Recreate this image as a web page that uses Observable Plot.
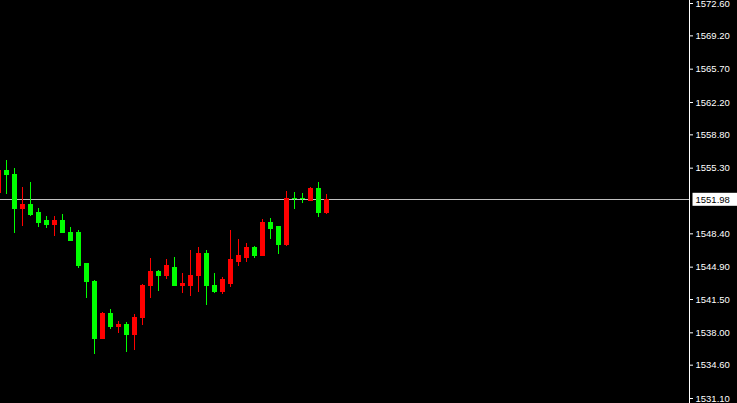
<!DOCTYPE html>
<html><head><meta charset="utf-8">
<script src="https://cdn.jsdelivr.net/npm/d3@7"></script>
<script src="https://cdn.jsdelivr.net/npm/@observablehq/plot@0.6"></script>
<style>html,body{margin:0;padding:0;background:#000;overflow:hidden}#chart svg{display:block}</style>
</head><body><div id="chart"></div>
<script>
const opens  = [1552.74,1554.95,1554.63,1550.96,1551.48,1550.54,1549.70,1549.38,1549.70,1548.54,1548.54,1545.18,1543.39,1537.40,1539.93,1538.66,1538.77,1537.72,1539.51,1542.87,1544.44,1543.92,1544.86,1542.97,1542.97,1544.02,1546.23,1542.87,1542.24,1543.18,1545.49,1545.91,1546.96,1546.02,1549.49,1549.07,1547.18,1552.11,1552.11,1551.90,1553.16,1550.64];
const highs  = [1555.10,1556.11,1555.26,1553.27,1553.79,1551.06,1550.22,1550.22,1550.43,1549.07,1548.75,1545.28,1543.50,1540.14,1540.45,1539.19,1539.09,1539.93,1543.08,1545.81,1544.55,1545.70,1545.91,1544.23,1546.65,1546.96,1546.65,1544.23,1543.81,1548.75,1547.81,1547.39,1547.07,1549.91,1550.01,1549.07,1552.85,1552.74,1552.64,1553.27,1553.79,1552.53];
const lows   = [1552.60,1552.53,1548.44,1549.17,1550.22,1549.07,1548.96,1548.12,1548.44,1547.60,1544.76,1541.61,1535.72,1537.30,1538.35,1537.93,1535.93,1536.14,1538.77,1541.61,1542.34,1543.60,1542.87,1542.13,1541.82,1542.24,1540.87,1542.13,1542.03,1542.76,1544.97,1545.39,1545.81,1546.02,1547.81,1546.23,1547.07,1550.96,1551.59,1551.80,1550.12,1550.43];
const closes = [1554.95,1554.53,1550.96,1551.48,1550.43,1549.59,1549.38,1549.70,1548.44,1547.70,1545.07,1543.29,1537.40,1539.93,1538.56,1538.77,1537.72,1539.61,1542.97,1544.44,1543.92,1544.97,1542.97,1543.18,1544.02,1546.33,1542.97,1542.24,1543.50,1545.60,1546.02,1546.96,1546.02,1549.49,1548.96,1547.18,1552.11,1552.01,1552.01,1553.16,1550.64,1551.98];
const yTicks = [1572.60,1569.20,1565.70,1562.20,1558.80,1555.30,1548.40,1544.90,1541.50,1538.00,1534.60,1531.10];

const bars = opens.map((o, i) => ({i, open: o, high: highs[i], low: lows[i], close: closes[i]}));
const last = bars[bars.length - 1];
const UP = "#ff0000", DOWN = "#00ff00";
const col = d => d.close > d.open ? UP : DOWN;

const chart = Plot.plot({
  width: 737, height: 403,
  marginLeft: 0, marginRight: 48, marginTop: 0, marginBottom: 0,
  style: {background: "#000", color: "#fff", fontFamily: "'Liberation Sans', Arial, sans-serif", fontSize: "9.5px"},
  x: {type: "linear", domain: [0.6875, 86.8125], axis: null},
  y: {domain: [1531.1, 1572.6], range: [398, 3], axis: null},
  marks: [
    Plot.ruleY([last], {y: "close", stroke: "#c0c0c0", shapeRendering: "crispEdges"}),
    Plot.ruleX(bars, {x: "i", y1: "low", y2: "high", stroke: col, dx: 3.5, shapeRendering: "crispEdges"}),
    Plot.rect(bars, {x1: d => d.i, x2: d => d.i + 1, y1: "open", y2: "close", fill: col,
      insetLeft: 1.5, insetRight: 1.5, insetTop: -0.5, insetBottom: -0.5, shapeRendering: "crispEdges"}),
    Plot.frame({anchor: "right", stroke: "#fff", shapeRendering: "crispEdges"}),
    Plot.axisY({anchor: "right", ticks: yTicks, tickSize: 3, tickPadding: 3, label: null,
      tickFormat: d => d.toFixed(2), stroke: "#fff", fill: "#fff"}),
    Plot.text([last], {y: "close", frameAnchor: "right", dx: 6, textAnchor: "start",
      text: d => d.close.toFixed(2), fill: "#000"})
  ]
});
document.getElementById("chart").append(chart);

// white box behind current price label
const label = last.close.toFixed(2);
d3.select(chart).selectAll("text").each(function() {
  if (this.textContent === label) {
    const b = this.getBBox();
    const cy = b.y + b.height / 2;
    const r = d3.select(this.parentNode).insert("rect", () => this)
      .attr("x", b.x - 3).attr("y", cy - 6.5)
      .attr("width", b.width + 11).attr("height", 13)
      .attr("fill", "#fff");
    const t = this.getAttribute("transform");
    if (t) r.attr("transform", t);
  }
});
</script>
</body></html>
